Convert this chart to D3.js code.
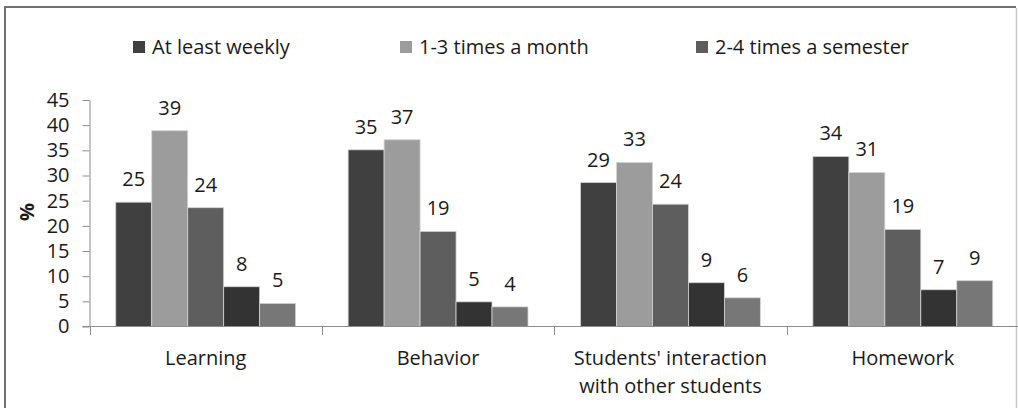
<!DOCTYPE html>
<html>
<head>
<meta charset="utf-8">
<script src="https://cdn.jsdelivr.net/npm/d3@7"></script>
<style>
  body { margin: 0; background: #fff; }
  svg { display: block; font-family: "Open Sans", "Noto Sans", sans-serif; }
</style>
</head>
<body>
<script>
'use strict';

// data (percent)
const categories = ["Learning", "Behavior", "Students' interaction\nwith other students", "Homework"];
const seriesKeys = ["weekly", "monthly", "semester", "s4", "s5"];
const legendLabels = ["At least weekly", "1-3 times a month", "2-4 times a semester"];
const weekly   = [24.7, 35.1, 28.6, 33.8];
const monthly  = [38.9, 37.1, 32.6, 30.6];
const semester = [23.6, 18.9, 24.3, 19.3];
const s4       = [7.9, 4.9, 8.7, 7.3];
const s5       = [4.6, 3.9, 5.7, 9.1];
const yTicks = [0, 5, 10, 15, 20, 25, 30, 35, 40, 45];

const colors = ["#404040", "#9c9c9c", "#5e5e5e", "#333333", "#777777"];
const values = [weekly, monthly, semester, s4, s5];
const fontSize = '20px';

let svg = d3.select('body').append('svg')
  .attr('width', 1018)
  .attr('height', 408);

// frame
svg.append('path')
  .attr('d', 'M5,408V7H1016')
  .attr('fill', 'none')
  .attr('stroke', '#707070')
  .attr('stroke-width', 2);
svg.append('line')
  .attr('x1', 1016.5).attr('x2', 1016.5)
  .attr('y1', 8).attr('y2', 408)
  .attr('stroke', '#c8c8c8')
  .attr('stroke-width', 1.5);

// scales
let x0 = d3.scaleBand().domain(categories).range([89.5, 1019]);
let x1 = d3.scaleBand().domain(seriesKeys).range([0, x0.bandwidth()]).paddingOuter(0.73);
let y = d3.scaleLinear().domain([0, 45]).range([326.5, 100]);

// y axis
let yAxis = d3.axisLeft(y).tickValues(yTicks).tickSize(7).tickPadding(13).tickSizeOuter(0);
let gy = svg.append('g')
  .attr('transform', 'translate(89.5,0)')
  .call(yAxis);
gy.selectAll('path, line').attr('stroke', '#8c8c8c');
gy.selectAll('text')
  .style('font-size', fontSize)
  .style('font-family', '"Open Sans", sans-serif')
  .attr('fill', '#1a1a1a');

// bars
categories.forEach((cat, ci) => {
  let g = svg.append('g').attr('transform', 'translate(' + x0(cat) + ',0)');
  let rows = seriesKeys.map((k, si) => ({ key: k, v: values[si][ci], c: colors[si] }));
  g.selectAll('rect')
    .data(rows)
    .enter().append('rect')
    .attr('x', d => x1(d.key))
    .attr('width', x1.bandwidth())
    .attr('y', d => y(d.v))
    .attr('height', d => y(0) - y(d.v))
    .attr('fill', d => d.c)
    .attr('stroke', '#d4d4d4')
    .attr('stroke-width', 0.8);
  g.selectAll('text')
    .data(rows)
    .enter().append('text')
    .attr('x', d => x1(d.key) + x1.bandwidth() / 2)
    .attr('y', d => y(d.v) - 16)
    .attr('text-anchor', 'middle')
    .style('font-size', fontSize)
    .attr('fill', '#1a1a1a')
    .text(d => Math.round(d.v));
});

// x axis line and category boundary ticks
svg.append('line')
  .attr('x1', 82.5).attr('x2', 1019)
  .attr('y1', 326.5).attr('y2', 326.5)
  .attr('stroke', '#8c8c8c');
svg.selectAll('.xtick')
  .data(categories)
  .enter().append('line')
  .attr('class', 'xtick')
  .attr('x1', d => Math.round(x0(d)) + 0.5)
  .attr('x2', d => Math.round(x0(d)) + 0.5)
  .attr('y1', 326.5)
  .attr('y2', 335)
  .attr('stroke', '#8c8c8c');

// category labels
svg.selectAll('.xlab')
  .data(categories)
  .enter().append('text')
  .attr('class', 'xlab')
  .attr('text-anchor', 'middle')
  .attr('transform', d => 'translate(' + (x0(d) + x0.bandwidth() / 2) + ',365)')
  .style('font-size', fontSize)
  .attr('fill', '#1a1a1a')
  .each(function(d) {
    d.split('\n').forEach((line, i) => {
      d3.select(this).append('tspan')
        .attr('x', 0)
        .attr('y', i * 28)
        .text(line);
    });
  });

// y axis title
svg.append('text')
  .attr('transform', 'translate(34,212)rotate(-90)')
  .attr('text-anchor', 'middle')
  .style('font-size', fontSize)
  .style('font-weight', 'bold')
  .attr('fill', '#1a1a1a')
  .text('%');

// legend
let legendX = [133, 400, 696];
let legend = svg.selectAll('.legend')
  .data(legendLabels)
  .enter().append('g')
  .attr('class', 'legend')
  .attr('transform', (d, i) => 'translate(' + legendX[i] + ',41)');
legend.append('rect')
  .attr('width', 12)
  .attr('height', 12)
  .attr('fill', (d, i) => colors[i]);
legend.append('text')
  .attr('x', 19)
  .attr('y', 12.5)
  .style('font-size', fontSize)
  .attr('fill', '#1a1a1a')
  .text(d => d);
</script>
</body>
</html>
